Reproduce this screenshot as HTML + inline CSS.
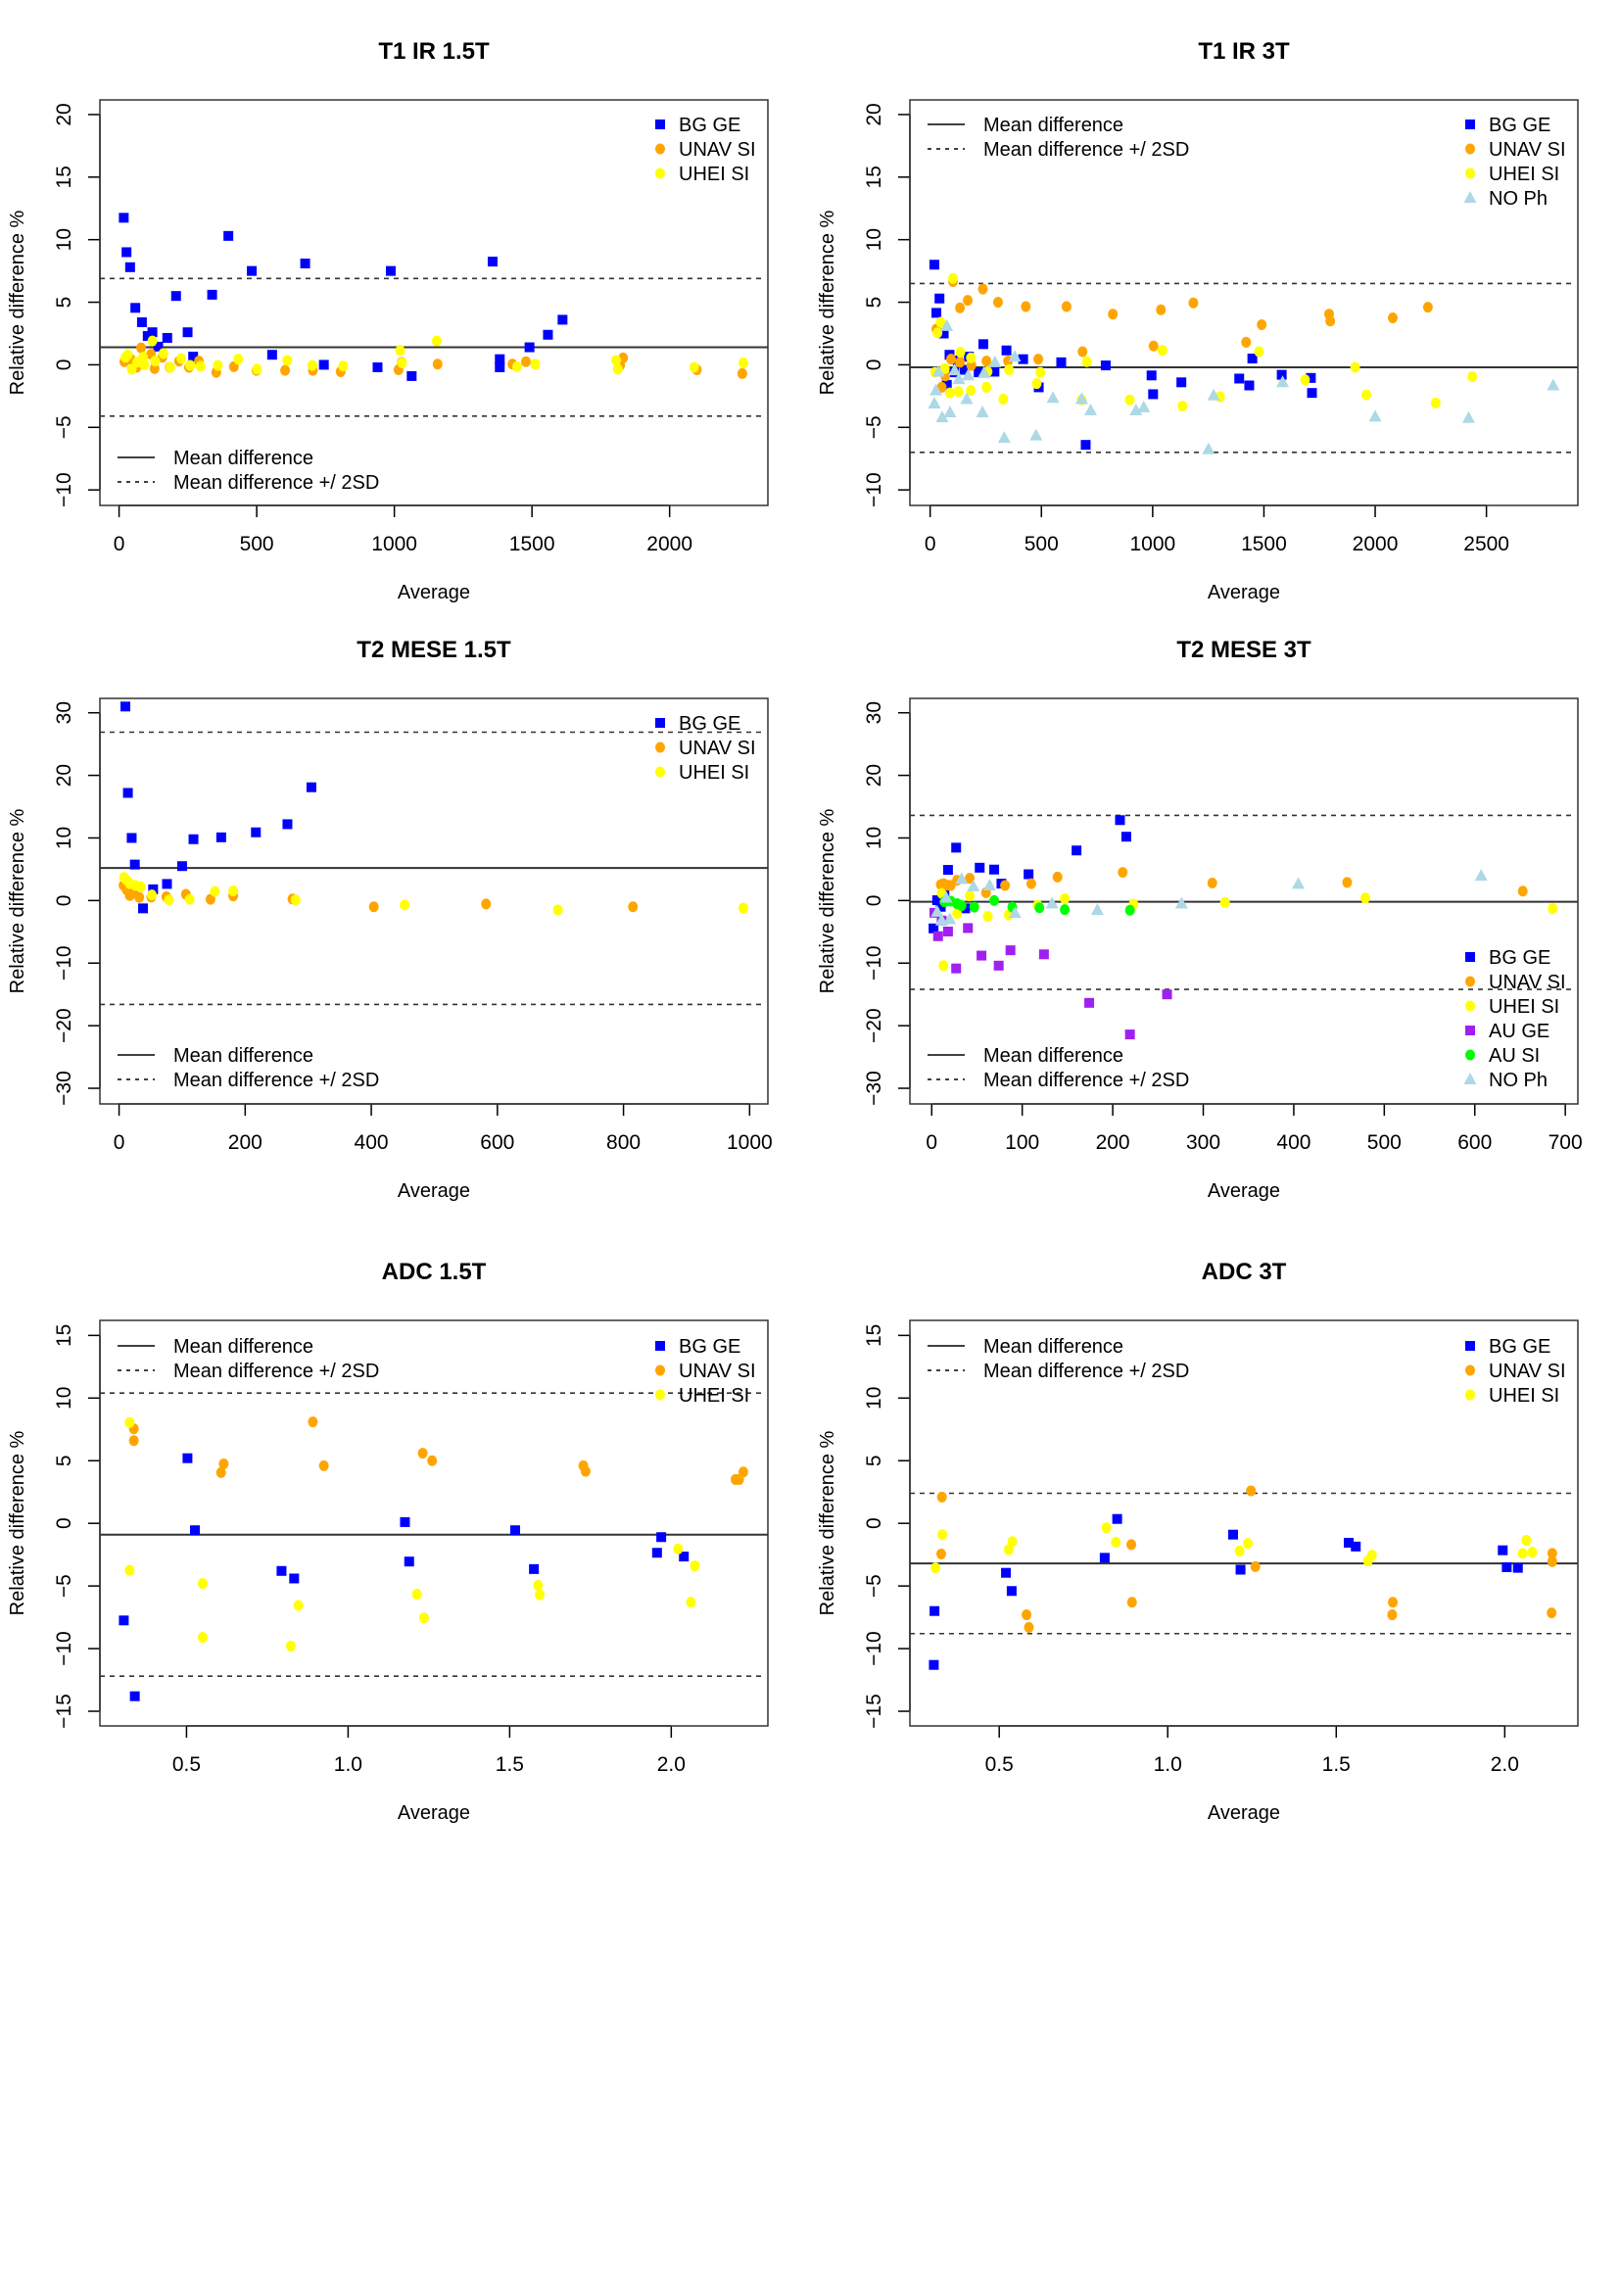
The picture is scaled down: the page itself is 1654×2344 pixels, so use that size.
<!DOCTYPE html>
<html><head><meta charset="utf-8"><style>
html,body{margin:0;padding:0;background:#fff;}
svg text{font-family:"Liberation Sans",Arial,sans-serif;fill:#000;}
</style></head><body>
<svg id="chart" width="1654" height="2339" viewBox="0 0 1654 2339" xmlns="http://www.w3.org/2000/svg">
<rect width="1654" height="2339" fill="#fff"/>
</svg>
<script>
// ---- Panel 1: T1 IR 1.5T ----
const p1BgGe=[[17,11.75],[27,9.0],[40,7.8],[59,4.55],[83,3.4],[104,2.3],[121,2.6],[142,1.45],[175,2.15],[207,5.5],[249,2.6],[269,0.65],[338,5.6],[397,10.3],[482,7.5],[556,0.8],[676,8.1],[744,0.0],[939,-0.2],[987,7.5],[1063,-0.9],[1357,8.25],[1383,0.45],[1383,-0.2],[1491,1.4],[1558,2.4],[1611,3.6]];
const p1Unav=[[19,0.25],[42,0.45],[63,-0.2],[80,1.35],[116,0.85],[129,-0.3],[157,0.6],[184,-0.2],[218,0.3],[254,-0.2],[290,0.3],[353,-0.6],[417,-0.15],[499,-0.45],[603,-0.45],[704,-0.45],[805,-0.55],[1015,-0.4],[1027,0.2],[1157,0.05],[1429,0.05],[1478,0.25],[1820,-0.05],[1831,0.55],[2099,-0.4],[2264,-0.7]];
const p1Uhei=[[23,0.6],[32,0.8],[46,-0.35],[65,0.2],[87,0.6],[91,0],[121,1.9],[131,0.3],[161,0.9],[186,-0.2],[226,0.5],[258,-0.05],[296,-0.1],[359,-0.05],[433,0.45],[501,-0.35],[611,0.35],[702,-0.05],[814,-0.1],[1021,1.15],[1028,0.15],[1154,1.9],[1446,-0.15],[1512,0.05],[1806,0.35],[1812,-0.35],[2089,-0.2],[2268,0.15]];
const p1Lines=[1.4,6.9,-4.1];
const p1XTicks=[0,500,1000,1500,2000];
const p1YTicks=[-10,-5,0,5,10,15,20];

// ---- Panel 2: T1 IR 3T ----
const p2BgGe=[[19,8.0],[28,4.15],[42,5.3],[61,2.5],[75,-1.6],[87,0.8],[108,-0.6],[124,0.35],[155,-0.4],[174,0.65],[218,-0.6],[239,1.65],[289,-0.55],[343,1.15],[418,0.45],[488,-1.8],[589,0.2],[699,-6.4],[789,-0.05],[995,-0.85],[1002,-2.35],[1129,-1.4],[1389,-1.1],[1434,-1.65],[1448,0.5],[1580,-0.8],[1711,-1.05],[1716,-2.25]];
const p2Unav=[[28,2.85],[52,-1.8],[68,-0.9],[94,0.45],[103,6.65],[134,4.55],[134,0.2],[169,5.15],[185,-0.05],[237,6.05],[253,0.3],[305,5.0],[350,0.3],[430,4.65],[486,0.45],[613,4.65],[685,1.05],[821,4.05],[1004,1.5],[1037,4.4],[1183,4.95],[1420,1.8],[1490,3.2],[1793,4.05],[1798,3.5],[2079,3.75],[2237,4.6]];
const p2Uhei=[[23,-0.6],[33,2.55],[47,3.4],[66,-0.3],[89,-2.25],[103,6.9],[127,-2.15],[136,1.0],[183,0.55],[183,-2.05],[253,-1.8],[258,-0.55],[329,-2.75],[354,-0.4],[479,-1.5],[495,-0.6],[681,-2.8],[704,0.25],[897,-2.8],[1044,1.15],[1134,-3.3],[1303,-2.55],[1478,1.05],[1685,-1.2],[1910,-0.2],[1960,-2.4],[2272,-3.05],[2436,-0.95]];
const p2NoPh=[[19,-3.1],[26,-2.05],[38,-0.55],[54,-4.2],[75,3.1],[89,-3.8],[110,-0.45],[129,-1.15],[164,-2.75],[171,-0.85],[235,-3.8],[242,-0.65],[291,0.2],[333,-5.85],[380,0.65],[476,-5.65],[552,-2.65],[681,-2.75],[721,-3.65],[925,-3.65],[960,-3.4],[1251,-6.75],[1274,-2.45],[1584,-1.4],[2000,-4.15],[2420,-4.25],[2800,-1.65]];
const p2Lines=[-0.2,6.5,-7.0];
const p2XTicks=[0,500,1000,1500,2000,2500];
const p2YTicks=[-10,-5,0,5,10,15,20];

// ---- Panel 3: T2 MESE 1.5T ----
const p3BgGe=[[10,31.0],[14,17.2],[20,10.0],[25,5.75],[38,-1.25],[54,1.8],[76,2.65],[100,5.5],[118,9.8],[162,10.1],[217,10.9],[267,12.2],[305,18.1]];
const p3Unav=[[7,2.45],[12,1.7],[17,0.8],[23,1.2],[32,0.5],[51,0.55],[75,0.6],[106,1.0],[145,0.2],[181,0.75],[275,0.25],[404,-1.0],[582,-0.55],[815,-1.0]];
const p3Uhei=[[8,3.7],[12,3.25],[17,2.7],[26,2.4],[34,2.2],[52,0.9],[79,0.1],[112,0.2],[152,1.45],[181,1.55],[280,0.1],[453,-0.7],[696,-1.5],[990,-1.2]];
const p3Lines=[5.2,26.9,-16.6];
const p3XTicks=[0,200,400,600,800,1000];
const p3YTicks=[-30,-20,-10,0,10,20,30];

// ---- Panel 4: T2 MESE 3T ----
const p4BgGe=[[2,-4.45],[6,0.05],[10,-1.0],[14,1.2],[18,4.9],[27,8.45],[37,-1.25],[53,5.25],[69,4.95],[77,2.7],[107,4.2],[160,8.0],[208,12.85],[215,10.2]];
const p4Unav=[[10,2.55],[13,2.7],[18,2.45],[21,2.4],[28,3.25],[42,3.55],[60,1.25],[81,2.4],[110,2.7],[139,3.75],[211,4.5],[310,2.8],[459,2.9],[653,1.5]];
const p4Uhei=[[11,1.15],[13,-10.4],[28,-2.05],[42,0.75],[62,-2.55],[85,-2.3],[117,-0.75],[147,0.3],[223,-0.6],[324,-0.3],[479,0.4],[686,-1.3]];
const p4AuGe=[[3,-1.95],[7,-5.7],[11,-3.2],[18,-4.95],[27,-10.85],[40,-4.4],[55,-8.8],[74,-10.4],[87,-7.95],[124,-8.6],[174,-16.35],[219,-21.4],[260,-15.0]];
const p4AuSi=[[14,-0.2],[21,-0.1],[28,-0.5],[33,-0.8],[47,-1.05],[69,0],[89,-1.05],[119,-1.15],[147,-1.45],[219,-1.55]];
const p4NoPh=[[6,-1.8],[11,-3.2],[16,0.45],[20,-3.0],[33,3.45],[46,2.25],[64,2.4],[92,-2.0],[133,-0.5],[183,-1.5],[276,-0.5],[405,2.65],[607,3.95]];
const p4Lines=[-0.2,13.6,-14.2];
const p4XTicks=[0,100,200,300,400,500,600,700];
const p4YTicks=[-30,-20,-10,0,10,20,30];

// ---- Panel 5: ADC 1.5T ----
const p5BgGe=[[0.306,-7.75],[0.340,-13.8],[0.503,5.2],[0.526,-0.55],[0.794,-3.8],[0.833,-4.4],[1.176,0.1],[1.189,-3.05],[1.517,-0.55],[1.575,-3.65],[1.956,-2.35],[1.969,-1.1],[2.039,-2.65]];
const p5Unav=[[0.337,7.55],[0.337,6.6],[0.607,4.05],[0.615,4.75],[0.891,8.1],[0.925,4.6],[1.231,5.6],[1.260,5.0],[1.728,4.6],[1.735,4.15],[2.199,3.5],[2.210,3.5],[2.223,4.1]];
const p5Uhei=[[0.324,8.05],[0.324,-3.75],[0.550,-4.8],[0.550,-9.1],[0.823,-9.8],[0.846,-6.55],[1.213,-5.65],[1.235,-7.55],[1.588,-4.95],[1.593,-5.7],[2.021,-2.05],[2.061,-6.3],[2.073,-3.4]];
const p5Lines=[-0.9,10.4,-12.2];
const p5XTicks=[0.5,1.0,1.5,2.0];
const p5YTicks=[-15,-10,-5,0,5,10,15];

// ---- Panel 6: ADC 3T ----
const p6BgGe=[[0.308,-7.0],[0.306,-11.3],[0.520,-3.95],[0.537,-5.4],[0.813,-2.75],[0.850,0.35],[1.194,-0.9],[1.216,-3.7],[1.537,-1.55],[1.558,-1.85],[1.994,-2.15],[2.006,-3.5],[2.039,-3.55]];
const p6Unav=[[0.330,2.1],[0.328,-2.45],[0.581,-7.3],[0.588,-8.3],[0.892,-1.7],[0.894,-6.3],[1.247,2.6],[1.260,-3.45],[1.668,-6.3],[1.666,-7.3],[2.141,-2.4],[2.141,-3.05],[2.139,-7.15]];
const p6Uhei=[[0.311,-3.55],[0.331,-0.9],[0.528,-2.1],[0.539,-1.45],[0.818,-0.35],[0.846,-1.5],[1.213,-2.2],[1.238,-1.6],[1.594,-3.0],[1.606,-2.55],[2.053,-2.4],[2.064,-1.35],[2.082,-2.3]];
const p6Lines=[-3.2,2.4,-8.8];
const p6XTicks=[0.5,1.0,1.5,2.0];
const p6YTicks=[-15,-10,-5,0,5,10,15];

const COL={bg:'#0000ff',unav:'#ffa500',uhei:'#ffff00',auge:'#a020f0',ausi:'#00ff00',noph:'#add8e6'};
const SHAPE={bg:'sq',unav:'ci',uhei:'ci',auge:'sq',ausi:'ci',noph:'tri'};
const LABEL={bg:'BG GE',unav:'UNAV SI',uhei:'UHEI SI',auge:'AU GE',ausi:'AU SI',noph:'NO Ph'};
const NS='http://www.w3.org/2000/svg';
const svg=document.getElementById('chart');
function mk(tag,attrs,parent){const e=document.createElementNS(NS,tag);for(const k in attrs)e.setAttribute(k,attrs[k]);(parent||svg).appendChild(e);return e;}
function fmt(v,dec){let s=dec?v.toFixed(1):String(v);return s.replace('-','\u2212');}

function drawMarker(g,shape,color,cx,cy,nm){
  let e;
  if(shape==='sq')e=mk('rect',{x:cx-5,y:cy-5,width:10,height:10,fill:color},g);
  else if(shape==='ci')e=mk('ellipse',{cx:cx,cy:cy,rx:5,ry:5.5,fill:color},g);
  else e=mk('polygon',{points:`${cx},${cy-7} ${cx-6.5},${cy+5} ${cx+6.5},${cy+5}`,fill:color},g);
  
  
  return e;
}

function panel(cfg){
  const g=mk('g',{});
  
  
  const [L,T,R,B]=cfg.box;
  const sx=v=>L+(v-cfg.xlim[0])/(cfg.xlim[1]-cfg.xlim[0])*(R-L);
  const sy=v=>B-(v-cfg.ylim[0])/(cfg.ylim[1]-cfg.ylim[0])*(B-T);
  const cx=(L+R)/2;
  const t=mk('text',{x:cx,y:T-42,'text-anchor':'middle','font-size':24,'font-weight':'bold'},g);
  t.textContent=cfg.title;
  
  
  // y axis label
  const yl=mk('text',{x:0,y:0,'text-anchor':'middle','font-size':20,transform:`translate(${L-78},${(T+B)/2}) rotate(-90)`},g);
  yl.textContent='Relative difference %';
  
  
  const xl=mk('text',{x:cx,y:B+95,'text-anchor':'middle','font-size':20},g);
  xl.textContent='Average';
  
  
  // x ticks
  const xa=mk('g',{},g);
  
  
  const xt=cfg.xticks;
  mk('line',{x1:sx(xt[0]),x2:sx(xt[xt.length-1]),y1:B,y2:B,stroke:'#000','stroke-width':1.5},xa);
  xt.forEach(v=>{
    const px=sx(v);
    mk('line',{x1:px,x2:px,y1:B,y2:B+12,stroke:'#000','stroke-width':1.5},xa);
    const tx=mk('text',{x:px,y:B+46,'text-anchor':'middle','font-size':21},xa);
    tx.textContent=fmt(v,cfg.dec);
    
    
  });
  const ya=mk('g',{},g);
  
  
  const yt=cfg.yticks;
  mk('line',{x1:L,x2:L,y1:sy(yt[0]),y2:sy(yt[yt.length-1]),stroke:'#000','stroke-width':1.5},ya);
  yt.forEach(v=>{
    const py=sy(v);
    mk('line',{x1:L-12,x2:L,y1:py,y2:py,stroke:'#000','stroke-width':1.5},ya);
    const tx=mk('text',{x:0,y:0,'text-anchor':'middle','font-size':21,transform:`translate(${L-30},${py}) rotate(-90)`},ya);
    tx.textContent=fmt(v,false);
    
    
  });
  // lines
  const [m,u,l]=cfg.lines;
  const ml=mk('line',{x1:L,x2:R,y1:sy(m),y2:sy(m),stroke:'#333','stroke-width':2},g);
  
  
  [u,l].forEach(v=>{
    const dl=mk('line',{x1:L,x2:R-4,y1:sy(v),y2:sy(v),stroke:'#333','stroke-width':1.6,'stroke-dasharray':'5,5'},g);
    
    
  });
  // points
  cfg.series.forEach(s=>{
    const sg=mk('g',{},g);
    
    
    s.data.forEach(p=>drawMarker(sg,SHAPE[s.key],COL[s.key],sx(p[0]),sy(p[1]),'point-'+s.key));
  });
  // box
  const bx=mk('rect',{x:L,y:T,width:R-L,height:B-T,fill:'none',stroke:'#333','stroke-width':1.5},g);
  
  
  // series legend
  const lg=mk('g',{},g);
  
  
  cfg.series.forEach((s,i)=>{
    const y=cfg.legY+i*25;
    drawMarker(lg,SHAPE[s.key],COL[s.key],L+572,y,'legend-symbol');
    const lt=mk('text',{x:L+591,y:y+7,'font-size':20},lg);
    lt.textContent=LABEL[s.key];
    
    
  });
  // line legend
  const ll=mk('g',{},g);
  
  
  const y0=cfg.lineLegY;
  mk('line',{x1:L+18,x2:L+56,y1:y0,y2:y0,stroke:'#000','stroke-width':1.6},ll);
  mk('line',{x1:L+18,x2:L+56,y1:y0+25,y2:y0+25,stroke:'#000','stroke-width':1.6,'stroke-dasharray':'4,5'},ll);
  const a=mk('text',{x:L+75,y:y0+7,'font-size':20},ll);a.textContent='Mean difference';
  
  
  const b=mk('text',{x:L+75,y:y0+32,'font-size':20},ll);b.textContent='Mean difference +/ 2SD';
  
  
}

panel({name:'panel-t1-ir-1-5t',title:'T1 IR 1.5T',box:[102,102,784,516],xlim:[-69.7,2357],ylim:[-11.24,21.17],xticks:p1XTicks,yticks:p1YTicks,lines:p1Lines,
  series:[{key:'bg',data:p1BgGe},{key:'unav',data:p1Unav},{key:'uhei',data:p1Uhei}],legY:127,lineLegY:467});
panel({name:'panel-t1-ir-3t',title:'T1 IR 3T',box:[929,102,1611,516],xlim:[-91,2911],ylim:[-11.24,21.17],xticks:p2XTicks,yticks:p2YTicks,lines:p2Lines,
  series:[{key:'bg',data:p2BgGe},{key:'unav',data:p2Unav},{key:'uhei',data:p2Uhei},{key:'noph',data:p2NoPh}],legY:127,lineLegY:127});
panel({name:'panel-t2-mese-1-5t',title:'T2 MESE 1.5T',box:[102,713,784,1127],xlim:[-30.4,1029],ylim:[-32.5,32.3],xticks:p3XTicks,yticks:p3YTicks,lines:p3Lines,
  series:[{key:'bg',data:p3BgGe},{key:'unav',data:p3Unav},{key:'uhei',data:p3Uhei}],legY:738,lineLegY:1077});
panel({name:'panel-t2-mese-3t',title:'T2 MESE 3T',box:[929,713,1611,1127],xlim:[-24.1,713.9],ylim:[-32.5,32.3],xticks:p4XTicks,yticks:p4YTicks,lines:p4Lines,
  series:[{key:'bg',data:p4BgGe},{key:'unav',data:p4Unav},{key:'uhei',data:p4Uhei},{key:'auge',data:p4AuGe},{key:'ausi',data:p4AuSi},{key:'noph',data:p4NoPh}],legY:977,lineLegY:1077});
panel({name:'panel-adc-1-5t',title:'ADC 1.5T',box:[102,1348,784,1762],xlim:[0.232,2.299],ylim:[-16.17,16.2],xticks:p5XTicks,yticks:p5YTicks,lines:p5Lines,dec:true,
  series:[{key:'bg',data:p5BgGe},{key:'unav',data:p5Unav},{key:'uhei',data:p5Uhei}],legY:1374,lineLegY:1374});
panel({name:'panel-adc-3t',title:'ADC 3T',box:[929,1348,1611,1762],xlim:[0.235,2.217],ylim:[-16.17,16.2],xticks:p6XTicks,yticks:p6YTicks,lines:p6Lines,dec:true,
  series:[{key:'bg',data:p6BgGe},{key:'unav',data:p6Unav},{key:'uhei',data:p6Uhei}],legY:1374,lineLegY:1374});
</script>
</body></html>
